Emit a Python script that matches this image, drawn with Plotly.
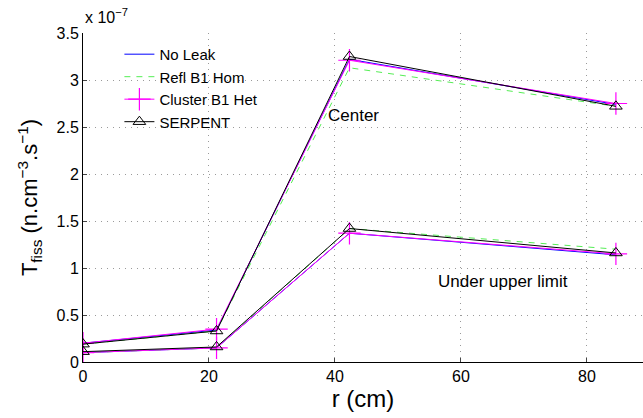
import plotly.graph_objects as go

r = [0, 21.2, 42.3, 84.6]
# Center series (x 1e-7)
c_noleak = [0.20, 0.34, 3.22, 2.74]
c_refl = [0.19, 0.33, 3.13, 2.72]
c_clust = [0.20, 0.35, 3.21, 2.75]
c_serp = [0.19, 0.33, 3.25, 2.72]
# Under upper limit series
u_noleak = [0.10, 0.15, 1.37, 1.14]
u_refl = [0.10, 0.15, 1.42, 1.20]
u_clust = [0.10, 0.15, 1.37, 1.15]
u_serp = [0.11, 0.16, 1.42, 1.16]

ytickvals = [0, 0.5, 1, 1.5, 2, 2.5, 3, 3.5]
yticktext = ["0", "0.5", "1", "1.5", "2", "2.5", "3", "3.5"]
xtickvals = [0, 20, 40, 60, 80]

font = "Liberation Sans, Arial, sans-serif"
fig = go.Figure()

styles = [
    ("No Leak", c_noleak, u_noleak, dict(color="#0000ff", width=1), dict()),
    ("Refl B1 Hom", c_refl, u_refl, dict(color="#55ee55", width=1, dash="6px,6px"), dict()),
    ("Cluster B1 Het", c_clust, u_clust, dict(color="#ff00ff", width=1),
     dict(symbol="cross-thin-open", size=16, line=dict(color="#ff00ff", width=1.2))),
    ("SERPENT", c_serp, u_serp, dict(color="#000000", width=1),
     dict(symbol="triangle-up-open", size=11, color="#000000", line=dict(color="#000000", width=1))),
]
for name, c, u, line, marker in styles:
    mode = "lines+markers" if marker else "lines"
    fig.add_trace(go.Scatter(x=r, y=c, name=name, mode=mode, line=line,
                             marker=marker if marker else None))
    fig.add_trace(go.Scatter(x=r, y=u, name=name, mode=mode, line=line,
                             marker=marker if marker else None, showlegend=False))

fig.add_annotation(x=38.6, y=2.62, text="Center", showarrow=False, xanchor="left",
                   yanchor="middle", font=dict(size=17, family=font, color="black"))
fig.add_annotation(x=56.0, y=0.86, text="Under upper limit", showarrow=False,
                   xanchor="left", yanchor="middle",
                   font=dict(size=17, family=font, color="black"))
fig.add_annotation(xref="paper", yref="paper", x=0, y=1.0, yshift=5,
                   text="x 10<sup>−7</sup>", showarrow=False, xanchor="left",
                   yanchor="bottom", font=dict(size=16, family=font, color="black"))

fig.update_layout(
    width=643, height=418,
    margin=dict(l=83, r=0, t=33, b=56),
    paper_bgcolor="white", plot_bgcolor="white",
    font=dict(family=font, color="black", size=16),
    legend=dict(x=0.065, y=0.985, xanchor="left", yanchor="top",
                bgcolor="rgba(0,0,0,0)", font=dict(size=15, family=font),
                tracegroupgap=0),
    xaxis=dict(range=[0, 88.9], tickvals=xtickvals, ticks="inside", ticklen=4,
               showline=True, linecolor="black", linewidth=1,
               showgrid=True, gridcolor="#9a9a9a", griddash="1px,5px", gridwidth=1,
               zeroline=False, tickfont=dict(size=16),
               title=dict(text="r (cm)", font=dict(size=24), standoff=4)),
    yaxis=dict(range=[0, 3.5], tickvals=ytickvals, ticktext=yticktext,
               ticks="inside", ticklen=4,
               showline=True, linecolor="black", linewidth=1,
               showgrid=True, gridcolor="#9a9a9a", griddash="1px,5px", gridwidth=1,
               zeroline=False, tickfont=dict(size=16),
               title=dict(text="T<sub>fiss</sub> (n.cm<sup>−3</sup>.s<sup>−1</sup>)",
                          font=dict(size=22), standoff=12)),
)

fig.write_html("out.html")
